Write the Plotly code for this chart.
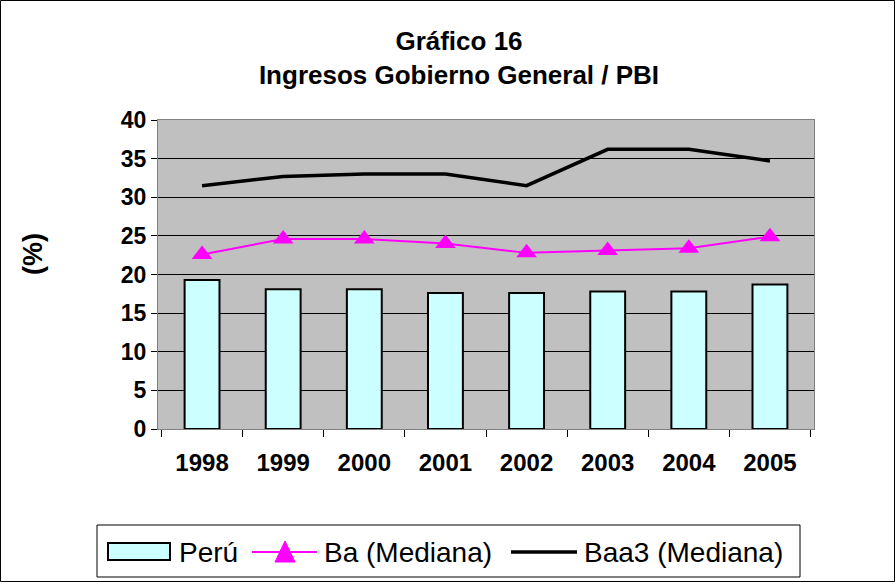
import plotly.graph_objects as go

years = ["1998", "1999", "2000", "2001", "2002", "2003", "2004", "2005"]
peru = [19.3, 18.1, 18.1, 17.6, 17.6, 17.8, 17.8, 18.7]
ba_mediana = [22.6, 24.6, 24.6, 24.0, 22.8, 23.1, 23.4, 24.9]
baa3_mediana = [31.5, 32.7, 33.0, 33.0, 31.5, 36.2, 36.2, 34.7]
series_names = ["Perú", "Ba (Mediana)", "Baa3 (Mediana)"]

font_family = "Arial, Liberation Sans, sans-serif"
bar_color = "#CCFFFF"
ba_color = "#FF00FF"

W, H = 895, 582
L, R, T, B = 158, 81, 120, 153
pw, ph = W - L - R, H - T - B


def px(x):
    """pixel x -> paper x"""
    return (x - L) / pw


def py(y):
    """pixel y (from top) -> paper y"""
    return (T + ph - y) / ph


fig = go.Figure()

fig.add_trace(go.Bar(
    x=years, y=peru, name=series_names[0],
    marker=dict(color=bar_color, line=dict(color="black", width=2)),
))
fig.add_trace(go.Scatter(
    x=years, y=ba_mediana, name=series_names[1], mode="lines+markers",
    line=dict(color=ba_color, width=2),
    marker=dict(symbol="triangle-up", size=18, color=ba_color),
))
fig.add_trace(go.Scatter(
    x=years, y=baa3_mediana, name=series_names[2], mode="lines",
    line=dict(color="black", width=3.5),
))

# hand-made legend box at the bottom (Excel style)
leg_y = 552
paper = dict(xref="paper", yref="paper")
shapes = [
    # outer chart border
    dict(type="rect", x0=px(0.5), x1=px(W - 0.5), y0=py(H - 0.5), y1=py(0.5),
         line=dict(color="black", width=1), **paper),
    # legend frame
    dict(type="rect", x0=px(97), x1=px(800), y0=py(577), y1=py(525),
         line=dict(color="black", width=1), fillcolor="white", **paper),
    # Perú swatch
    dict(type="rect", x0=px(108), x1=px(170), y0=py(560), y1=py(543),
         line=dict(color="black", width=2), fillcolor=bar_color, **paper),
    # Ba line + triangle
    dict(type="line", x0=px(252), x1=px(317), y0=py(leg_y), y1=py(leg_y),
         line=dict(color=ba_color, width=2), **paper),
    dict(type="path",
         path=f"M {px(275)} {py(562)} L {px(295)} {py(562)} L {px(285)} {py(541)} Z",
         line=dict(color=ba_color, width=1), fillcolor=ba_color, **paper),
    # Baa3 line
    dict(type="line", x0=px(511), x1=px(577), y0=py(leg_y), y1=py(leg_y),
         line=dict(color="black", width=3.5), **paper),
]

annotations = [
    dict(text=name, x=px(x), y=py(leg_y), xanchor="left", yanchor="middle",
         showarrow=False, font=dict(size=28, family=font_family, color="black"),
         **paper)
    for name, x in zip(series_names, [177, 322, 582])
]
annotations.append(dict(
    text="<b>(%)</b>", x=px(33), y=py(254), xanchor="center", yanchor="middle",
    showarrow=False, textangle=-90,
    font=dict(size=27, family=font_family, color="black"), **paper,
))

fig.update_layout(
    width=W, height=H,
    margin=dict(l=L, r=R, t=T, b=B),
    paper_bgcolor="white",
    plot_bgcolor="#C0C0C0",
    font=dict(family=font_family, color="black"),
    bargap=0.57,
    showlegend=False,
    title=dict(
        text="<b>Gráfico 16</b><br><b>Ingresos Gobierno General / PBI</b>",
        x=459 / W, xanchor="center", y=1 - 50 / H, yanchor="top",
        font=dict(size=26),
    ),
    shapes=shapes,
    annotations=annotations,
)

fig.update_xaxes(
    showgrid=False, ticks="outside", tickson="boundaries", ticklen=7,
    tickcolor="black", showline=True, linecolor="#808080", mirror=True,
    tickfont=dict(size=24, family=font_family), tickprefix="<b>", ticksuffix="</b>",
    ticklabelstandoff=12,
)
fig.update_yaxes(
    range=[0, 40], dtick=5, showgrid=True, gridcolor="black", gridwidth=1,
    ticks="outside", ticklen=6, tickcolor="black",
    showline=True, linecolor="#808080", mirror=True,
    tickfont=dict(size=23, family=font_family), tickprefix="<b>", ticksuffix="</b>",
    zeroline=False,
)

fig.write_html(
    "out.html",
    config={"displayModeBar": False},
    post_script="document.body.style.margin='0px';",
)
